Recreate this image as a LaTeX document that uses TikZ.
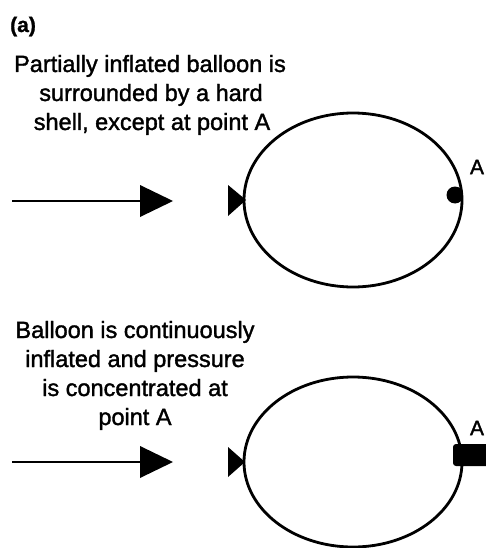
\documentclass[tikz,border=0pt]{standalone}
\usepackage{fontspec}
\setmainfont[FakeBold=1.2]{Liberation Sans}
\newfontfamily\heavyfont[FakeBold=1.5]{Liberation Sans}
\begin{document}
\begin{tikzpicture}[x=1pt,y=-1pt,
  txt/.style={anchor=base,inner sep=0pt,font=\fontsize{23.5}{28}\selectfont\heavyfont},
  balloon/.style={draw,line width=2.8pt},
  shaft/.style={line width=2.2pt},
  tri/.style={fill=black}]
\useasboundingbox (0,0) rectangle (485,548);
% header
\node[anchor=base west,inner sep=0pt,font=\fontsize{21}{24}\selectfont\bfseries] (lbl) at (10,32) {(a)};
% top text
\node[txt] (t1) at (150,72) {Partially inflated balloon is};
\node[txt] (t2) at (151,101) {surrounded by a hard};
\node[txt] (t3) at (152,130) {shell, except at point A};
% top diagram
\coordinate (s1) at (12,201);
\coordinate (h1) at (140,201);
\draw[shaft] (s1) -- (h1);
\fill[tri] (140,185) -- (173,201) -- (140,217) -- cycle;
\fill[tri] (228,185) -- (246,200) -- (228,216) -- cycle;
\draw[balloon] (353,200) ellipse [x radius=109, y radius=87];
\begin{scope}
\clip (353,200) ellipse [x radius=110, y radius=88];
\fill (455,195) circle (8.5);
\end{scope}
\node[anchor=center,inner sep=0pt,font=\fontsize{21}{24}\selectfont\heavyfont] (A1) at (477,167) {A};
% bottom text
\node[txt] (b1) at (135,338) {Balloon is continuously};
\node[txt] (b2) at (135,367) {inflated and pressure};
\node[txt] (b3) at (135,396) {is concentrated at};
\node[txt] (b4) at (135,425) {point A};
% bottom diagram
\coordinate (s2) at (12,462);
\coordinate (h2) at (140,462);
\draw[shaft] (s2) -- (h2);
\fill[tri] (140,446) -- (173,462) -- (140,478) -- cycle;
\fill[tri] (228,447) -- (245,462) -- (228,477) -- cycle;
\draw[balloon] (353,462) ellipse [x radius=109, y radius=85];
\fill[rounded corners=3pt] (453,444) rectangle (490,466);
\node[anchor=center,inner sep=0pt,font=\fontsize{21}{24}\selectfont\heavyfont] (A2) at (477,428) {A};
\end{tikzpicture}
\end{document}
